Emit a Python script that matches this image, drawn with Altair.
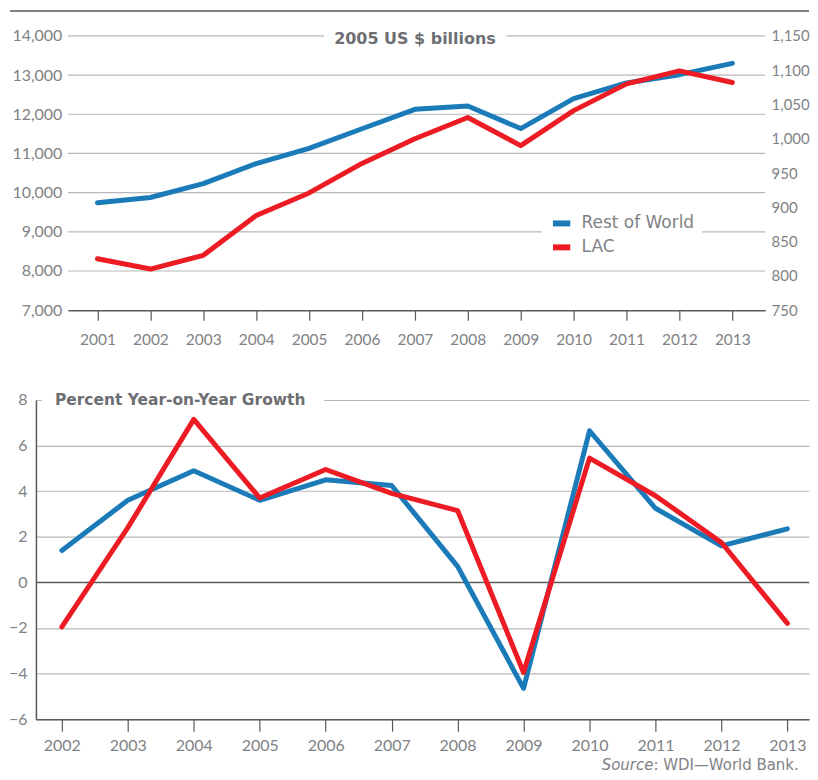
import altair as alt
import pandas as pd

# ---------------- data ----------------
years = list(range(2001, 2014))
row_level = [9740, 9875, 10230, 10740, 11130, 11630, 12125, 12210, 11635, 12400, 12800, 13010, 13300]
lac_level = [825, 810, 830, 888, 921, 964, 1000, 1031, 990, 1041, 1080, 1099, 1082]

growth_years = list(range(2002, 2014))
row_growth = [1.4, 3.6, 4.9, 3.6, 4.5, 4.25, 0.7, -4.65, 6.65, 3.25, 1.6, 2.35]
lac_growth = [-1.95, 2.4, 7.15, 3.7, 4.95, 3.9, 3.15, -3.95, 5.45, 3.8, 1.75, -1.8]

left_ticks = [7000, 8000, 9000, 10000, 11000, 12000, 13000, 14000]
right_ticks = [750, 800, 850, 900, 950, 1000, 1050, 1100, 1150]
growth_ticks = [-6, -4, -2, 0, 2, 4, 6, 8]

series = ["Rest of World", "LAC"]
colors = ["#1b7bb8", "#ed1c24"]

FONT = "Lato"
TFONT = "DejaVu Sans"
LABEL = "#808285"
TITLE = "#6d6e71"
DARK = "#58595b"
GRID = "#b7b7b7"

level_df = pd.DataFrame({
    "year": years * 2,
    "series": [series[0]] * len(years) + [series[1]] * len(years),
    "value": row_level + lac_level,
})
growth_df = pd.DataFrame({
    "year": growth_years * 2,
    "series": [series[0]] * len(growth_years) + [series[1]] * len(growth_years),
    "value": row_growth + lac_growth,
})
one = pd.DataFrame({"a": [0]})

color_scale = alt.Scale(domain=series, range=colors)

# ---------------- top chart ----------------
W1, H1 = 731, 275
xs1 = alt.Scale(domain=[2000.44, 2013.62], range=[32, W1], nice=False, zero=False)
yl = alt.Scale(domain=[7000, 14000], nice=False, zero=False)
yr = alt.Scale(domain=[750, 1150], nice=False, zero=False)

x_axis1 = alt.Axis(values=years, format="d", domain=True, domainColor=DARK, domainWidth=1.5,
                   ticks=True, tickColor=DARK, tickSize=10, tickWidth=1.2, grid=False,
                   labelFont=FONT, labelFontSize=15.5, labelColor=LABEL, labelPadding=12, title=None)

legend = alt.Legend(orient="none", legendX=507, legendY=168, fillColor="white", padding=8,
                    symbolType="stroke", symbolStrokeWidth=6, symbolSize=300,
                    labelFont=TFONT, labelFontSize=17, labelColor=LABEL, rowPadding=0,
                    labelOffset=8, title=None)

grid1 = alt.Chart(pd.DataFrame({"v": left_ticks[1:]})).mark_rule(color=GRID, strokeWidth=1.2).encode(
    y=alt.Y("v:Q", scale=yl, axis=None), x=alt.value(32), x2=alt.value(W1))

box1 = alt.Chart(one).mark_rect(color="white").encode(
    x=alt.value(289), x2=alt.value(472), y=alt.value(-9), y2=alt.value(11))
title1 = alt.Chart(one).mark_text(text="2005 US $ billions", font=TFONT, fontWeight="bold",
                                  fontSize=16, color=TITLE, align="center", baseline="middle").encode(
    x=alt.value(380), y=alt.value(3))

blue1 = alt.Chart(level_df).transform_filter(alt.datum.series == series[0]).mark_line(
    strokeWidth=5, strokeCap="round", strokeJoin="round").encode(
    x=alt.X("year:Q", scale=xs1, axis=x_axis1),
    y=alt.Y("value:Q", scale=yl, axis=alt.Axis(orient="left", offset=-32, values=left_ticks, format=",d",
                                               domain=False, ticks=False, grid=False, labelPadding=6,
                                               labelFont=FONT, labelFontSize=16, labelColor=LABEL, title=None)),
    color=alt.Color("series:N", scale=color_scale, legend=legend),
)
red1 = alt.Chart(level_df).transform_filter(alt.datum.series == series[1]).mark_line(
    strokeWidth=5, strokeCap="round", strokeJoin="round").encode(
    x=alt.X("year:Q", scale=xs1, axis=x_axis1),
    y=alt.Y("value:Q", scale=yr, axis=alt.Axis(orient="right", values=right_ticks, format=",d",
                                               domain=False, ticks=False, grid=False, labelPadding=6,
                                               labelFont=FONT, labelFontSize=15, labelColor=LABEL, title=None)),
    color=alt.Color("series:N", scale=color_scale, legend=legend),
)
border = alt.Chart(one).mark_rule(color=DARK, strokeWidth=1.5).encode(
    x=alt.value(-26), x2=alt.value(775), y=alt.value(-25))

top = alt.layer(grid1, box1, title1, blue1, red1, border).resolve_scale(y="independent").properties(
    width=W1, height=H1)

# ---------------- bottom chart ----------------
W2, H2 = 775, 320
xs2 = alt.Scale(domain=[2001.607, 2013.328], nice=False, zero=False)
ys2 = alt.Scale(domain=[-6, 8], nice=False, zero=False)

x_axis2 = alt.Axis(values=growth_years, format="d", domain=True, domainColor=DARK, domainWidth=1.5,
                   ticks=True, tickColor=DARK, tickSize=12, tickWidth=1.2, grid=False,
                   labelFont=FONT, labelFontSize=16, labelColor=LABEL, labelPadding=6, title=None)
y_axis2 = alt.Axis(values=growth_ticks, grid=True, gridColor=GRID, gridWidth=1.2,
                   domain=True, domainColor=DARK, domainWidth=1.5, ticks=False, labelPadding=9,
                   labelFont=FONT, labelFontSize=16, labelColor=LABEL, title=None)

zero = alt.Chart(pd.DataFrame({"v": [0]})).mark_rule(color=DARK, strokeWidth=1.2).encode(
    y=alt.Y("v:Q", scale=ys2, axis=y_axis2))
box2 = alt.Chart(one).mark_rect(color="white").encode(
    x=alt.value(6), x2=alt.value(289), y=alt.value(-10), y2=alt.value(10))
title2 = alt.Chart(one).mark_text(text="Percent Year-on-Year Growth", font=TFONT, fontWeight="bold",
                                  fontSize=15.5, color=TITLE, align="left", baseline="middle").encode(
    x=alt.value(19), y=alt.value(0))

lines2 = alt.Chart(growth_df).mark_line(strokeWidth=5, strokeCap="round", strokeJoin="round").encode(
    x=alt.X("year:Q", scale=xs2, axis=x_axis2),
    y=alt.Y("value:Q", scale=ys2, axis=y_axis2),
    color=alt.Color("series:N", scale=color_scale, legend=None),
    order=alt.Order("series:N", sort="descending"),
    detail="series:N",
)
src1 = alt.Chart(one).mark_text(text="Source", font=TFONT, fontStyle="italic", fontSize=15,
                                color=LABEL, align="right", baseline="middle").encode(
    x=alt.value(619), y=alt.value(H2 + 46))
src2 = alt.Chart(one).mark_text(text=": WDI\u2014World Bank.", font=TFONT, fontSize=15,
                                color=LABEL, align="left", baseline="middle").encode(
    x=alt.value(619), y=alt.value(H2 + 46))

bottom = alt.layer(zero, box2, title2, lines2, src1, src2).properties(width=W2, height=H2)

chart = alt.vconcat(top, bottom, spacing=42).resolve_scale(
    x="independent", y="independent", color="independent").configure_view(stroke=None).properties(
    padding={"left": 0, "top": 1, "right": 0, "bottom": 0})

chart.save("out.html", embed_options={"renderer": "svg", "actions": False})
